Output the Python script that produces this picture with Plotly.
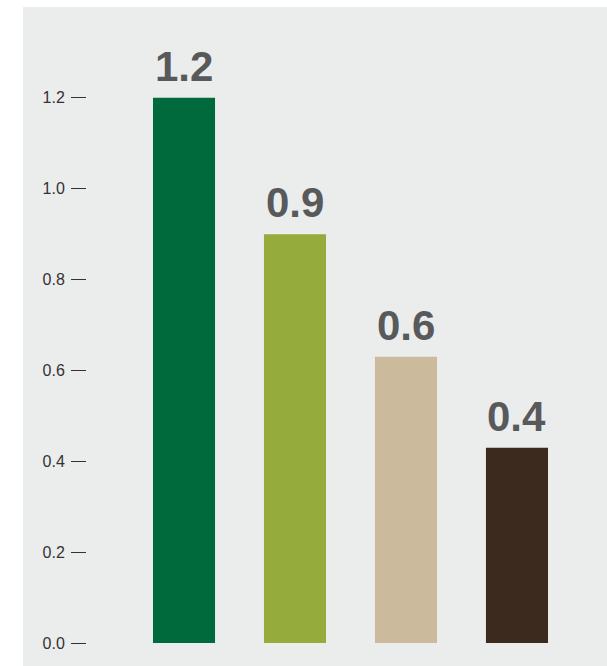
import plotly.graph_objects as go

categories = ["A", "B", "C", "D"]
values = [1.2, 0.9, 0.63, 0.43]
bar_colors = ["#006a3d", "#95ab3c", "#cbba9c", "#3b2a1d"]
tick_vals = [0.0, 0.2, 0.4, 0.6, 0.8, 1.0, 1.2]

xpos = list(range(len(categories)))

fig = go.Figure()
fig.add_trace(go.Bar(
    x=xpos, y=values, width=0.559,
    marker=dict(color=bar_colors, line=dict(width=0)),
    hoverinfo="skip", showlegend=False,
))

for xi, v in zip(xpos, values):
    fig.add_annotation(
        x=xi, y=v, xref="x", yref="y", text=f"{v:.1f}", showarrow=False,
        yanchor="bottom", xanchor="center", yshift=6,
        font=dict(family="Liberation Sans, Arial", size=42, color="#58595b", weight="bold"),
    )

# gray panel
fig.add_shape(type="rect", xref="paper", yref="paper",
              x0=-0.1231, x1=1.0, y0=-0.0362, y1=1.0,
              fillcolor="#ebecec", line=dict(width=0), layer="below")

fig.update_layout(
    width=607, height=666,
    margin=dict(l=87, r=0, t=7, b=23),
    paper_bgcolor="white", plot_bgcolor="rgba(0,0,0,0)",
    xaxis=dict(range=[-0.874, 3.811], showticklabels=False, ticks="",
               showgrid=False, zeroline=False, showline=False),
    yaxis=dict(range=[0, 1.4], tickvals=tick_vals, tickformat=".1f",
               ticks="outside", ticklen=15, tickwidth=1.3, tickcolor="#333333",
               ticklabelstandoff=3,
               tickfont=dict(family="Liberation Sans, Arial", size=16, color="#333333"),
               showgrid=False, zeroline=False, showline=False),
)

fig.write_html("out.html", config={"displayModeBar": False},
               post_script="document.body.style.margin='0';document.body.style.padding='0';")
